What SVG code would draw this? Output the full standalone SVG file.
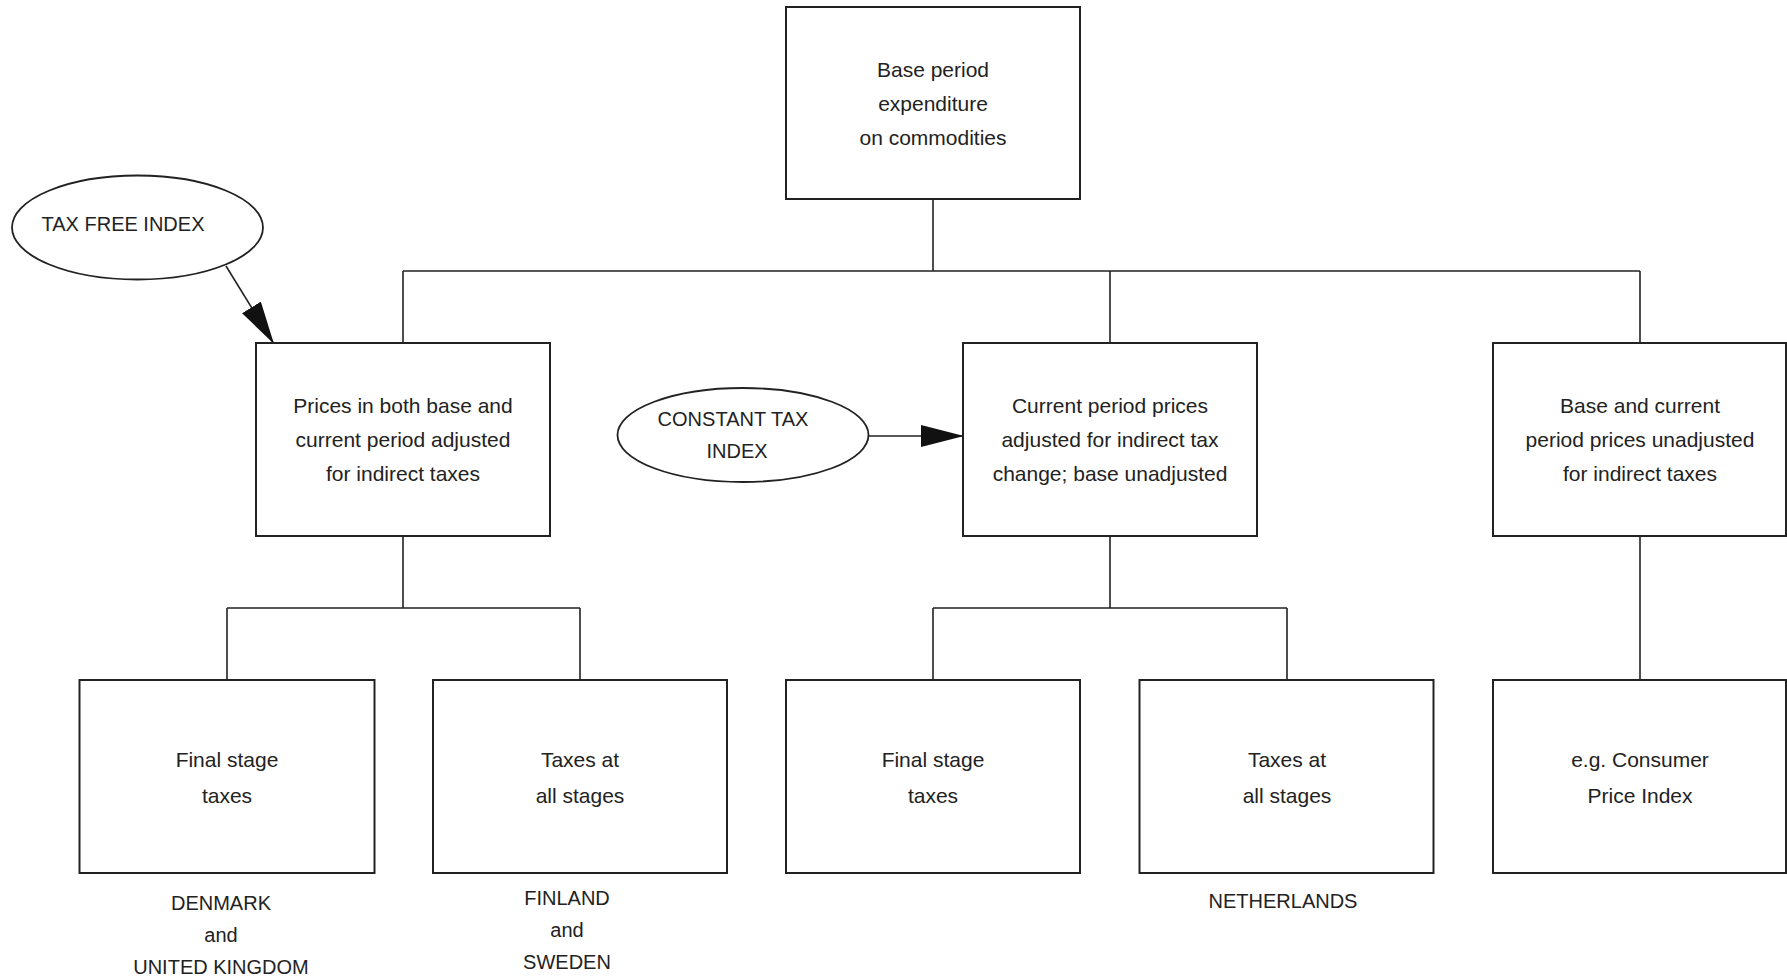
<svg xmlns="http://www.w3.org/2000/svg" width="1787" height="979" viewBox="0 0 1787 979">
<style>
.box{fill:#fff;stroke:#222;stroke-width:2}
.ell{fill:#fff;stroke:#222;stroke-width:1.8}
.ln{fill:none;stroke:#222;stroke-width:1.6}
text{font-family:"Liberation Sans",Arial,sans-serif;font-size:21px;fill:#222;text-anchor:middle}
.cap{font-size:20px}
</style>
<defs>
<marker id="ah" markerUnits="userSpaceOnUse" markerWidth="44" markerHeight="22" refX="43" refY="11" orient="auto">
<path d="M0,0 L43,11 L0,22 z" fill="#111"/>
</marker>
</defs>
<rect width="1787" height="979" fill="#fff"/>
<g id="connectors">
<path class="ln" d="M933,199 V271 M403,271 H1640 M403,271 V343 M1110,271 V343 M1640,271 V343"/>
<path class="ln" d="M403,536 V608 M227,608 H580 M227,608 V680 M580,608 V680"/>
<path class="ln" d="M1110,536 V608 M933,608 H1287 M933,608 V680 M1287,608 V680"/>
<path class="ln" d="M1640,536 V680"/>
<line class="ln" x1="226" y1="266" x2="274" y2="344" marker-end="url(#ah)"/>
<line class="ln" x1="868" y1="436" x2="964" y2="436" marker-end="url(#ah)"/>
</g>
<g id="base">
<rect class="box" x="786" y="7" width="294" height="192"/>
<text x="933" y="77">Base period</text>
<text x="933" y="111">expenditure</text>
<text x="933" y="145">on commodities</text>
</g>
<g id="taxfree">
<ellipse class="ell" cx="137.5" cy="227.5" rx="125.5" ry="52"/>
<text class="cap" x="123" y="231">TAX FREE INDEX</text>
</g>
<g id="constant">
<ellipse class="ell" cx="743" cy="435" rx="125.5" ry="47"/>
<text class="cap" x="733" y="426">CONSTANT TAX</text>
<text class="cap" x="737" y="458">INDEX</text>
</g>
<g id="both">
<rect class="box" x="256" y="343" width="294" height="193"/>
<text x="403" y="413">Prices in both base and</text>
<text x="403" y="447">current period adjusted</text>
<text x="403" y="481">for indirect taxes</text>
</g>
<g id="current">
<rect class="box" x="963" y="343" width="294" height="193"/>
<text x="1110" y="413">Current period prices</text>
<text x="1110" y="447">adjusted for indirect tax</text>
<text x="1110" y="481">change; base unadjusted</text>
</g>
<g id="unadj">
<rect class="box" x="1493" y="343" width="293" height="193"/>
<text x="1640" y="413">Base and current</text>
<text x="1640" y="447">period prices unadjusted</text>
<text x="1640" y="481">for indirect taxes</text>
</g>
<g id="final1">
<rect class="box" x="79.5" y="680" width="295" height="193"/>
<text x="227" y="767">Final stage</text>
<text x="227" y="803">taxes</text>
</g>
<g id="all1">
<rect class="box" x="433" y="680" width="294" height="193"/>
<text x="580" y="767">Taxes at</text>
<text x="580" y="803">all stages</text>
</g>
<g id="final2">
<rect class="box" x="786" y="680" width="294" height="193"/>
<text x="933" y="767">Final stage</text>
<text x="933" y="803">taxes</text>
</g>
<g id="all2">
<rect class="box" x="1139.5" y="680" width="294" height="193"/>
<text x="1287" y="767">Taxes at</text>
<text x="1287" y="803">all stages</text>
</g>
<g id="cpi">
<rect class="box" x="1493" y="680" width="293" height="193"/>
<text x="1640" y="767">e.g. Consumer</text>
<text x="1640" y="803">Price Index</text>
</g>
<g id="labels">
<text class="cap" x="221" y="910">DENMARK</text>
<text class="cap" x="221" y="942">and</text>
<text class="cap" x="221" y="974">UNITED KINGDOM</text>
<text class="cap" x="567" y="905">FINLAND</text>
<text class="cap" x="567" y="937">and</text>
<text class="cap" x="567" y="969">SWEDEN</text>
<text class="cap" x="1283" y="908">NETHERLANDS</text>
</g>
</svg>
